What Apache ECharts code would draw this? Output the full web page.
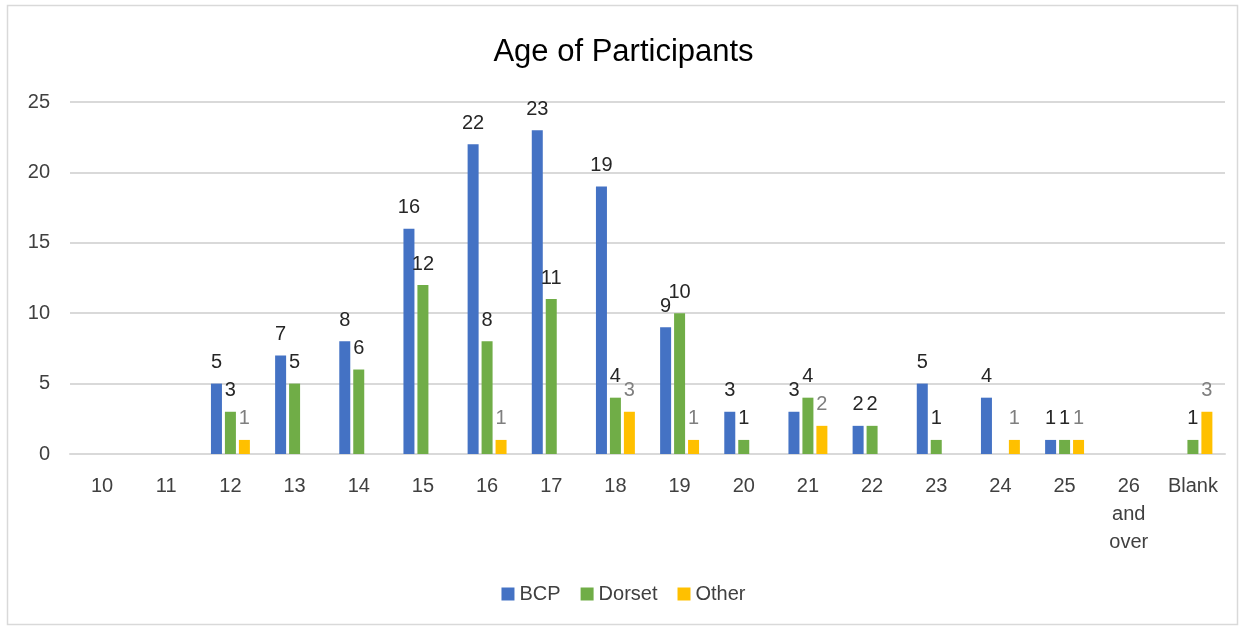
<!DOCTYPE html>
<html><head><meta charset="utf-8">
<script src="https://cdn.jsdelivr.net/npm/echarts@6/dist/echarts.min.js"></script>
<style>html,body{margin:0;padding:0;background:#fff}#c{width:1247px;height:628px}</style>
</head><body><div id="c"></div>
<script>
const categories = ['10','11','12','13','14','15','16','17','18','19','20','21','22','23','24','25','26\nand\nover','Blank'];
const bcp    = [null,null,5,7,8,16,22,23,19,9,3,3,2,5,4,1,null,null];
const dorset = [null,null,3,5,6,12,8,11,4,10,1,4,2,1,null,1,null,1];
const other  = [null,null,1,null,null,null,1,null,3,1,null,2,null,null,1,1,null,3];
const yTicks = [0,5,10,15,20,25];

const FONT = 'Liberation Sans, Arial, sans-serif';
const chart = echarts.init(document.getElementById('c'));
function lbl(color){return {show:true,position:'top',distance:11,color:color,fontSize:20,fontFamily:FONT};}
chart.setOption({
  animation:false,
  title:{text:'Age of Participants',left:'center',top:32,textStyle:{fontSize:31,fontWeight:'normal',color:'#000',fontFamily:FONT}},
  graphic:[{type:'rect',shape:{x:7.5,y:5.5,width:1230,height:619},style:{fill:'none',stroke:'#d9d9d9',lineWidth:1.5},silent:true}],
  grid:{left:70,right:22,top:102,bottom:174,containLabel:false},
  legend:{top:579,left:'center',itemWidth:13,itemHeight:13,itemGap:20,icon:'rect',textStyle:{fontSize:20,color:'#404040',fontFamily:FONT},data:['BCP','Dorset','Other']},
  xAxis:{type:'category',data:categories,axisLine:{lineStyle:{color:'#d9d9d9',width:2}},axisTick:{show:false},
    axisLabel:{interval:0,color:'#404040',fontSize:20,margin:18,lineHeight:28,fontFamily:FONT}},
  yAxis:{type:'value',min:yTicks[0],max:yTicks[yTicks.length-1],interval:5,
    axisLabel:{color:'#404040',fontSize:20,margin:20,fontFamily:FONT},
    splitLine:{lineStyle:{color:'#d9d9d9',width:2}},axisLine:{show:false},axisTick:{show:false}},
  series:[
    {name:'BCP',type:'bar',data:bcp,barWidth:11,barGap:'27%',itemStyle:{color:'#4472C4'},label:lbl('#262626')},
    {name:'Dorset',type:'bar',data:dorset,barWidth:11,barGap:'27%',itemStyle:{color:'#70AD47'},label:lbl('#262626')},
    {name:'Other',type:'bar',data:other,barWidth:11,barGap:'27%',itemStyle:{color:'#FFC000'},label:lbl('#7f7f7f')}
  ]
});
</script></body></html>
